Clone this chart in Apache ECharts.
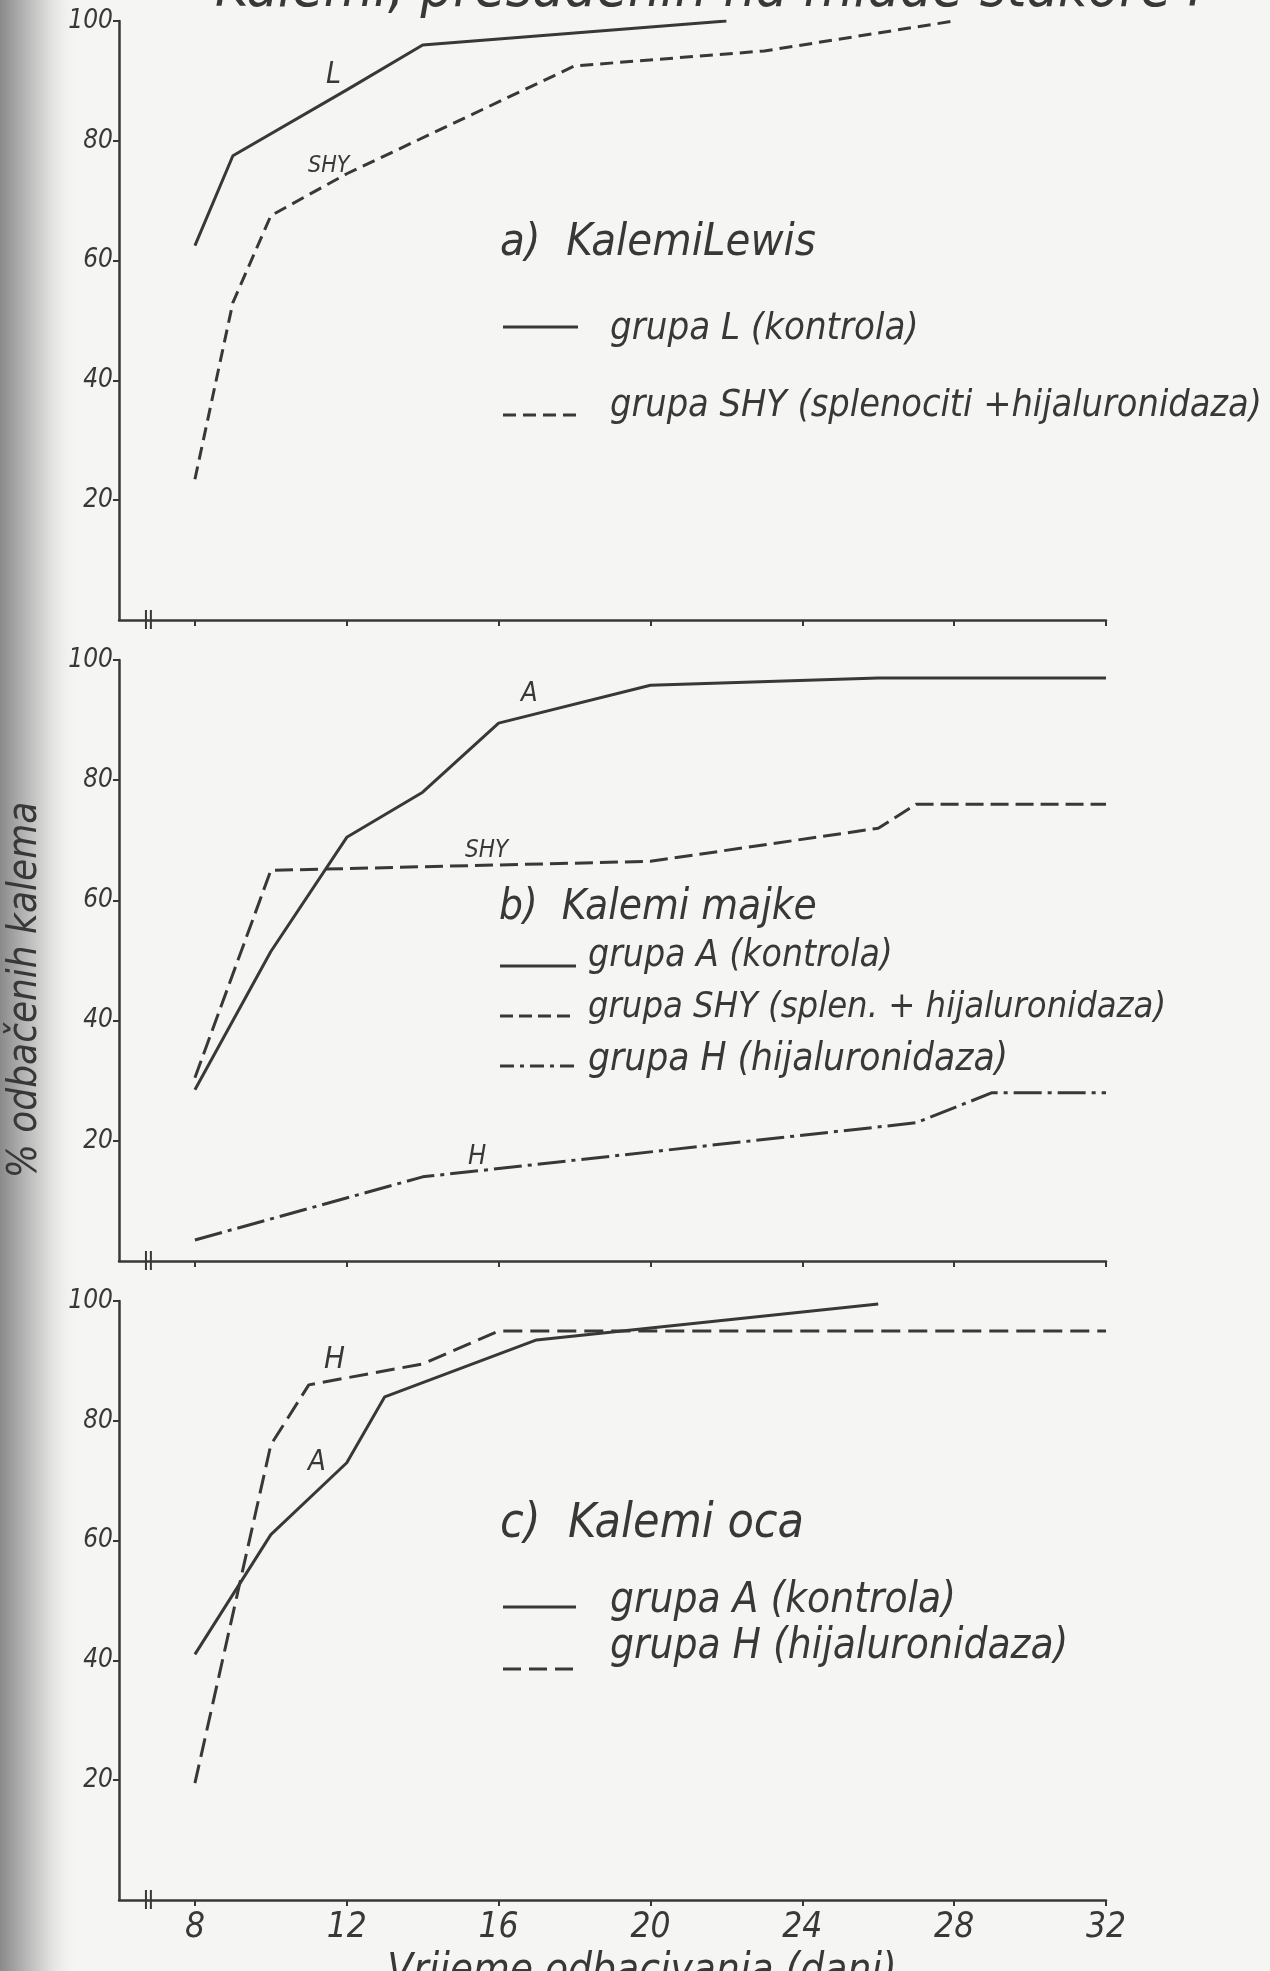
<!DOCTYPE html>
<html>
<head>
<meta charset="utf-8">
<title>Kalemi</title>
<script src="https://cdn.jsdelivr.net/npm/echarts@6/dist/echarts.min.js"></script>
<style>
html, body { margin: 0; padding: 0; background: #f5f5f3; }
#chart { width: 1270px; height: 1971px; }
</style>
</head>
<body>
<div id="chart"></div>
<script>
const FONT = "'Liberation Sans Narrow', 'DejaVu Sans Condensed', 'DejaVu Sans', sans-serif";
const INK = '#383838';

// axis ticks
const dayTicks = [8, 12, 16, 20, 24, 28, 32];
const pctTicks = [20, 40, 60, 80, 100];

// a) Kalemi Lewis
const aLDays = [8, 9, 12, 14, 22];
const aLVals = [62.5, 77.5, 88.5, 96, 100];
const aShyDays = [8, 9, 10, 12, 18, 23, 28];
const aShyVals = [23.5, 53, 67.5, 74.5, 92.5, 95, 100];

// b) Kalemi majke
const bADays = [8, 10, 12, 14, 16, 20, 26, 32];
const bAVals = [28.5, 51.5, 70.5, 78, 89.5, 95.8, 97, 97];
const bShyDays = [8, 10, 20, 26, 27, 32];
const bShyVals = [30.5, 65, 66.5, 72, 76, 76];
const bHDays = [8, 14, 27, 29, 32];
const bHVals = [3.5, 14, 23, 28, 28];

// c) Kalemi oca
const cADays = [8, 10, 12, 13, 17, 26];
const cAVals = [41, 61, 73, 84, 93.5, 99.5];
const cHDays = [8, 10, 11, 14, 16, 32];
const cHVals = [19.5, 76, 86, 89.5, 95, 95];

const panels = [
    {top: 21, height: 599},
    {top: 660, height: 601},
    {top: 1301, height: 599}
];

function pairs(xs, ys) {
    return xs.map((x, i) => [x, ys[i]]);
}

function line(name, xs, ys, idx, dash) {
    return {
        type: 'line', name: name,
        xAxisIndex: idx, yAxisIndex: idx,
        data: pairs(xs, ys),
        showSymbol: false, symbol: 'none',
        lineStyle: {color: INK, width: 3, type: dash, cap: 'butt'},
        animation: false, z: 3
    };
}

const myChart = echarts.init(document.getElementById('chart'), null, {renderer: 'canvas'});

myChart.setOption({
    backgroundColor: '#f5f5f3',
    animation: false,
    grid: panels.map(p => ({left: 119, width: 987, top: p.top, height: p.height, containLabel: false, outerBoundsMode: 'none'})),
    xAxis: panels.map((p, i) => ({
        type: 'value', gridIndex: i, min: 6, max: 32,
        axisLine: {show: true, lineStyle: {color: INK, width: 2.5}},
        axisTick: {show: true, customValues: dayTicks, length: 6, lineStyle: {color: INK, width: 2}},
        axisLabel: {
            show: i === 2, customValues: dayTicks, margin: 10,
            color: INK, fontSize: 35, fontStyle: 'italic', fontFamily: FONT
        },
        splitLine: {show: false}
    })),
    yAxis: panels.map((p, i) => ({
        type: 'value', gridIndex: i, min: 0, max: 100, interval: 20,
        axisLine: {show: true, lineStyle: {color: INK, width: 2.5}},
        axisTick: {show: true, customValues: pctTicks, length: 6, lineStyle: {color: INK, width: 2}},
        axisLabel: {
            customValues: pctTicks, margin: 6,
            color: INK, fontSize: 26, fontStyle: 'italic', fontFamily: FONT
        },
        splitLine: {show: false}
    })),
    series: [
        line('L', aLDays, aLVals, 0, 'solid'),
        line('SHY a', aShyDays, aShyVals, 0, [13, 7]),
        line('A b', bADays, bAVals, 1, 'solid'),
        line('SHY b', bShyDays, bShyVals, 1, [18, 7]),
        line('H b', bHDays, bHVals, 1, [28, 6, 4, 6]),
        line('A c', cADays, cAVals, 2, 'solid'),
        line('H c', cHDays, cHVals, 2, [19, 8])
    ]
});

function txt(str, x, y, size, align, rotation) {
    return {
        type: 'text', x: x, y: y, rotation: rotation || 0, z: 10,
        style: {
            text: str, fill: INK,
            font: 'italic ' + size + 'px ' + FONT,
            textAlign: align || 'left', textVerticalAlign: 'middle'
        }
    };
}

function seg(x1, y1, x2, y2, dash) {
    return {
        type: 'line', z: 10,
        shape: {x1: x1, y1: y1, x2: x2, y2: y2},
        style: {stroke: INK, lineWidth: 3, lineDash: dash || null}
    };
}

const graphics = [
    {
        type: 'rect', z: 0,
        shape: {x: 0, y: 0, width: 80, height: 1971},
        style: {
            fill: new echarts.graphic.LinearGradient(0, 0, 1, 0, [
                {offset: 0, color: '#8a8a8a'},
                {offset: 0.3, color: '#b4b4b4'},
                {offset: 0.65, color: '#e2e2e1'},
                {offset: 1, color: 'rgba(245,245,243,0)'}
            ])
        }
    },
    txt('Kalemi, presađenih na mlade štakore I', 215, -9, 57),
    txt('% odbačenih kalema', 26, 990, 40, 'center', Math.PI / 2),
    txt('Vrijeme odbacivanja (dani)', 642, 1972, 42, 'center'),

    // a)
    txt('L', 326, 75, 30),
    txt('SHY', 308, 166, 23),
    txt('a)  KalemiLewis', 500, 243, 45),
    seg(503, 327, 578, 327),
    txt('grupa L (kontrola)', 610, 329, 38),
    seg(503, 415, 578, 415, [13, 7]),
    txt('grupa SHY (splenociti +hijaluronidaza)', 610, 406, 37.5),

    // b)
    txt('A', 521, 694, 27),
    txt('SHY', 465, 851, 24),
    txt('b)  Kalemi majke', 499, 908, 42),
    seg(500, 966, 576, 966),
    txt('grupa A (kontrola)', 588, 956, 37),
    seg(500, 1016, 576, 1016, [13, 6]),
    txt('grupa SHY (splen. + hijaluronidaza)', 588, 1008, 36),
    seg(500, 1066, 576, 1066, [14, 6, 4, 6]),
    txt('grupa H (hijaluronidaza)', 588, 1060, 38.5),
    txt('H', 468, 1157, 27),

    // c)
    txt('H', 324, 1360, 31),
    txt('A', 308, 1462, 29),
    txt('c)  Kalemi oca', 500, 1525, 48),
    seg(503, 1607, 576, 1607),
    txt('grupa A (kontrola)', 610, 1601, 42),
    seg(503, 1669, 576, 1669, [18, 8]),
    txt('grupa H (hijaluronidaza)', 610, 1647, 42)
];

// axis break marks "||" near the origin of each panel
panels.forEach((p, i) => {
    [6.71, 6.84].forEach(d => {
        const pt = myChart.convertToPixel({gridIndex: i}, [d, 0]);
        graphics.push({
            type: 'line', z: 10,
            shape: {x1: pt[0], y1: pt[1] - 10, x2: pt[0], y2: pt[1] + 9},
            style: {stroke: INK, lineWidth: 2}
        });
    });
});

myChart.setOption({graphic: graphics});
</script>
</body>
</html>
